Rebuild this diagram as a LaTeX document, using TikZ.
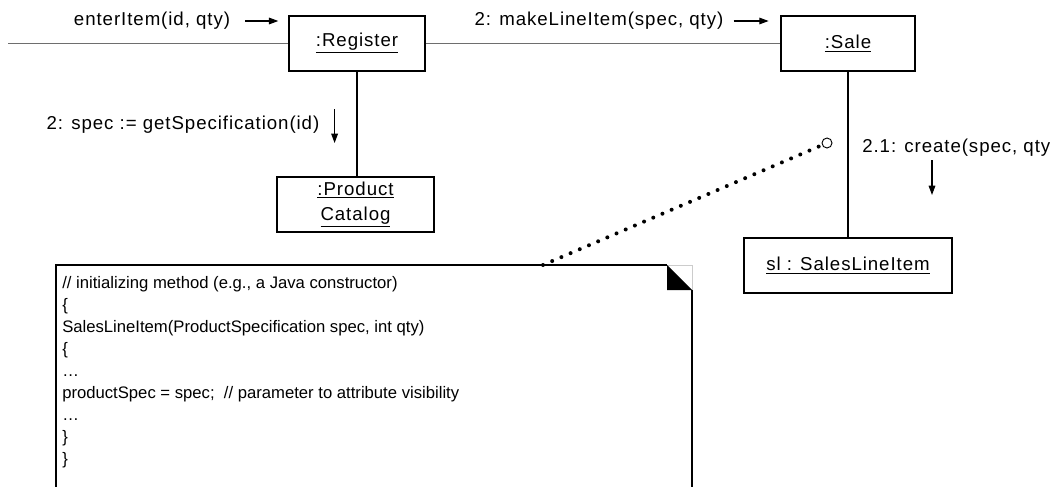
\documentclass[tikz,border=0pt]{standalone}
\usepackage{fontspec}
\setmainfont{Liberation Sans}[LetterSpace=5]
\newfontfamily\notefont{Liberation Sans}
\usetikzlibrary{arrows.meta,positioning,shapes.geometric}
\definecolor{linkgray}{HTML}{6E6E6E}

\begin{document}
\begin{tikzpicture}[
    x=0.75pt, y=-0.75pt,
    >={Triangle[length=7pt,width=5pt]},
    obj/.style={rectangle, draw, line width=0.8pt, fill=white, minimum width=#1, minimum height=41.25pt, font=\fontsize{14}{18.75}\selectfont, align=center, inner sep=0pt},
    link/.style={draw, line width=0.8pt},
    lbl/.style={font=\fontsize{14}{17}\selectfont, inner sep=0pt},
    msg/.style={->, line width=0.8pt},
]
\useasboundingbox (0,0) rectangle (1056,486);

% Objects
\node[obj=102pt] (reg) at (357,43.5) {\underline{:Register}};
\node[obj=100.5pt] (sale) at (848,43.5) {\underline{:Sale}};
\node[obj=117.75pt] (cat) at (355.5,204.5) {\underline{:Product}\\\underline{Catalog}};
\node[obj=156pt] (sli) at (848,265.5) {\underline{sl : SalesLineItem}};

% Links
\coordinate (actor) at (8,43.5);
\draw[link, linkgray] (actor) -- (reg.west);
\draw[link, linkgray] (reg.east) -- (sale.west);
\draw[link] (reg.south) -- (reg.south |- cat.north);
\draw[link] (sale.south) -- (sli.north);

% Messages
\node[lbl] (enterLbl) at (152,21) {enterItem(id, qty)};
\draw[msg] ([xshift=11.25pt]enterLbl.east) -- ++(33,0);
\node[lbl] (makeLbl) at (599,21) {2: makeLineItem(spec, qty)};
\draw[msg] ([xshift=7.5pt]makeLbl.east) -- ++(35,0);
\node[lbl] (specLbl) at (183,125) {2: spec := getSpecification(id)};
\draw[msg] ([xshift=11.25pt,yshift=12pt]specLbl.east) -- ++(0,34);
\node[lbl, anchor=west] (createLbl) at (862,148) {2.1: create(spec, qty};
\draw[msg] ([xshift=52.5pt,yshift=-9pt]createLbl.west) -- ++(0,35);

% Note
\draw[line width=0.8pt] (56,500) -- (56,265) -- (667,265);
\draw[gray!40, line width=0.5pt] (667,265) -- (692,265) -- (692,290);
\fill (667,265) -- (667,290) -- (692,290) -- cycle;
\draw[line width=0.8pt] (692,290) -- (692,500);
\node[anchor=north west, font=\notefont\fontsize{12.5}{16.5}\selectfont, align=left, inner sep=0pt] (noteText) at (62,276) {%
// initializing method (e.g., a Java constructor)\\
\{\\
SalesLineItem(ProductSpecification spec, int qty)\\
\{\\
…\\
productSpec = spec;\ \ // parameter to attribute visibility\\
…\\
\}\\
\}};

% Note anchor
\coordinate (noteHook) at (543,265);
\node[circle, draw, fill=white, minimum size=7.5pt, inner sep=0pt, line width=0.7pt] (hook) at (827,143) {};
\draw[line width=3pt, line cap=round, dash pattern=on 0pt off 7.5pt] (noteHook) -- (hook);

\end{tikzpicture}
\end{document}
